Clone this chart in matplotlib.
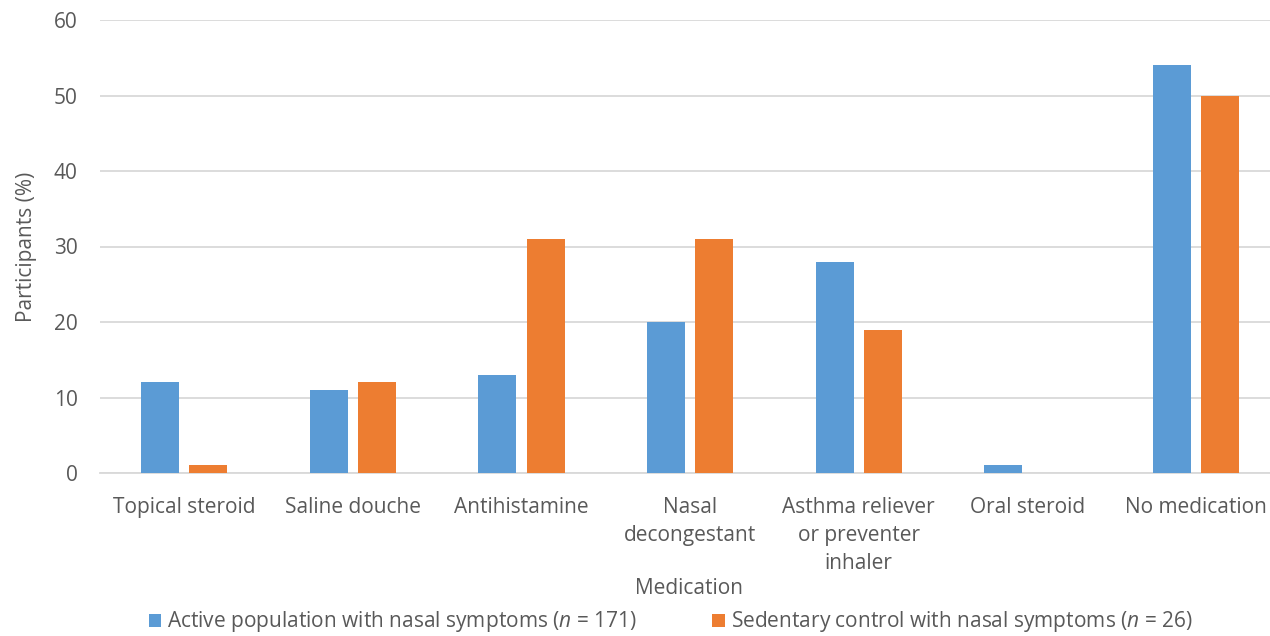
import numpy as np
import matplotlib.pyplot as plt

# Data
categories = ['Topical steroid', 'Saline douche', 'Antihistamine', 'Nasal\ndecongestant',
              'Asthma reliever\nor preventer\ninhaler', 'Oral steroid', 'No medication']
active = [12, 11, 13, 20, 28, 1, 54]
sedentary = [1, 12, 31, 31, 19, 0, 50]
series_names = ['Active population with nasal symptoms ($\\it{n}$ = 171)',
                'Sedentary control with nasal symptoms ($\\it{n}$ = 26)']

plt.rcParams['font.family'] = ['Open Sans', 'DejaVu Sans']
plt.rcParams['mathtext.fontset'] = 'custom'
plt.rcParams['mathtext.it'] = 'Open Sans:italic'
text_color = '#595959'
fs = 15

fig = plt.figure(figsize=(12.7, 6.36), dpi=100)
ax = fig.add_axes([100 / 1270, 1 - 473 / 636, 1170 / 1270, (473 - 20) / 636])

x = np.arange(len(categories))
w = 0.226
ax.bar(x - 0.143, active, w, color='#5B9BD5', label=series_names[0], zorder=3)
ax.bar(x + 0.143, sedentary, w, color='#ED7D31', label=series_names[1], zorder=3)

ax.set_xlim(-0.5, -0.5 + 1170 / 168.6)
ax.set_ylim(0, 60)
ax.set_yticks(range(0, 61, 10))
ax.set_xticks(x)
ax.set_xticklabels(categories, fontsize=fs, color=text_color, linespacing=1.45)
ax.tick_params(axis='y', labelsize=fs, labelcolor=text_color, length=0, pad=16)
ax.tick_params(axis='x', length=0, pad=17)
ax.grid(axis='y', color='#D9D9D9', linewidth=1.3, zorder=0)
for s in ['top', 'right', 'left']:
    ax.spines[s].set_visible(False)
ax.spines['bottom'].set_color('#D9D9D9')
ax.spines['bottom'].set_linewidth(1.3)

ax.set_ylabel('Participants (%)', fontsize=fs, color=text_color, labelpad=12)
fig.text(689 / 1270, 1 - 588 / 636, 'Medication', fontsize=fs, color=text_color,
         ha='center', va='center')

leg = fig.legend(loc='center', bbox_to_anchor=(0.528, 1 - 622 / 636), ncol=2, frameon=False,
                 fontsize=fs, handlelength=0.6, handleheight=0.6, handletextpad=0.3,
                 columnspacing=3.6, borderpad=0.2)
for t in leg.get_texts():
    t.set_color(text_color)

fig.savefig('out.png', dpi=100)
